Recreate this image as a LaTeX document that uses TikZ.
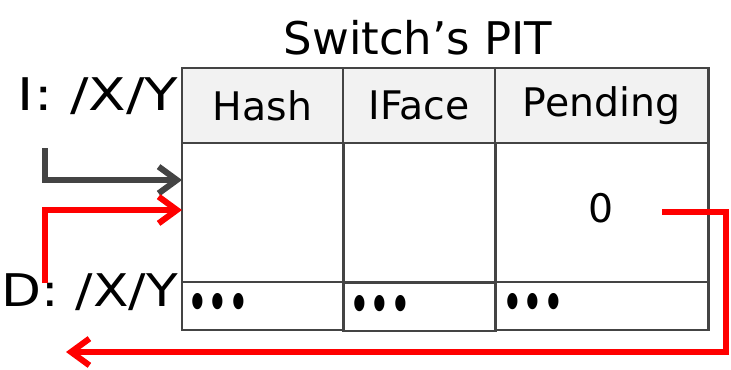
\documentclass[tikz,border=0pt]{standalone}
\usepackage{fontspec}
\setmainfont{DejaVu Sans}
\usetikzlibrary{arrows.meta}
\definecolor{gridgray}{HTML}{444444}
\definecolor{headfill}{HTML}{F2F2F2}
\definecolor{ptred}{HTML}{FF0000}
\tikzset{
  cell/.style={draw=gridgray, line width=2.1pt, inner sep=0pt, font=\fontsize{28}{30}\selectfont},
  lbl/.style={inner sep=0pt, font=\fontsize{32}{34}\selectfont},
  dots/.style={inner sep=0pt, anchor=base west, font=\fontsize{40}{42}\selectfont},
  flow/.style={line width=4.3pt, -{Straight Barb[length=13pt,width=19pt,line width=4.3pt]}},
}
\begin{document}
\begin{tikzpicture}[x=0.025cm, y=-0.025cm]
   \useasboundingbox (0,0) rectangle (731,369);
   \node[lbl] (title) at (418,38) {Switch’s PIT};
   % header row
   \node[cell, fill=headfill, minimum width=4.025cm, minimum height=1.875cm] (hash) at (262.5,105.5) {Hash};
   \node[cell, fill=headfill, minimum width=3.8cm, minimum height=1.875cm] (iface) at (419,105.5) {IFace};
   \node[cell, fill=headfill, minimum width=5.325cm, minimum height=1.875cm] (pend) at (601.5,105.5) {Pending};
   % entry row
   \node[cell, minimum width=4.025cm, minimum height=3.475cm] (b1) at (262.5,212.5) {};
   \node[cell, minimum width=3.8cm, minimum height=3.475cm] (b2) at (419,212.5) {};
   \node[cell, minimum width=5.325cm, minimum height=3.475cm] (b3) at (601.5,212.5) {};
   % more rows
   \node[cell, minimum width=4.025cm, minimum height=1.2cm] (m1) at (262.5,306) {};
   \node[cell, minimum width=3.8cm, minimum height=1.2cm] (m2) at (419,307) {};
   \node[cell, minimum width=5.325cm, minimum height=1.2cm] (m3) at (601.5,306) {};
   \node[dots] (d1) at (187,322) {\resizebox{1.55cm}{\height}{•••}};
   \node[dots] (d2) at (349,324) {\resizebox{1.55cm}{\height}{•••}};
   \node[dots] (d3) at (502,322) {\resizebox{1.55cm}{\height}{•••}};
   \node[cell, draw=none] (zero) at (601,208) {0};
   \node[lbl] (int) at (98,96) {\resizebox{4cm}{\height}{I: /X/Y}};
   \node[lbl] (dat) at (90,292) {\resizebox{4.4cm}{\height}{D: /X/Y}};
   \coordinate (iStart) at (45,148);
   \coordinate (iEnd) at (182,180);
   \coordinate (dStart) at (45,283);
   \coordinate (dEnd) at (182,210);
   \coordinate (pStart) at (662,212);
   \coordinate (pTurn) at (726,352);
   \coordinate (pEnd) at (66,352);
   \draw[flow, gridgray] (iStart) |- (iEnd);
   \draw[flow, ptred] (dStart) |- (dEnd);
   \draw[flow, ptred] (pStart) -| (pTurn) -- (pEnd);
\end{tikzpicture}
\end{document}
